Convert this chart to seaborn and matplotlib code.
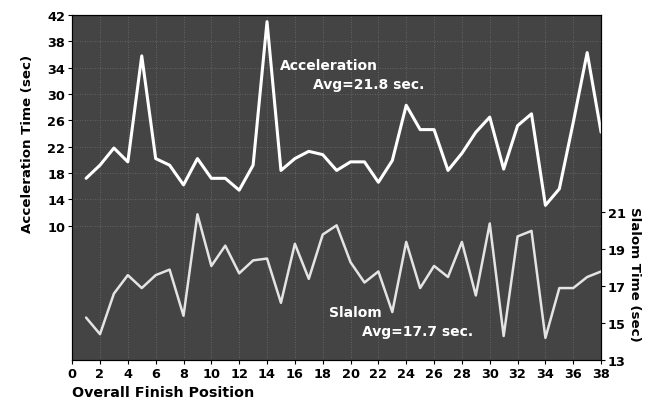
import matplotlib
matplotlib.use("Agg")
import matplotlib.pyplot as plt
import seaborn as sns
import pandas as pd

# finish positions 1..38
position = list(range(1, 39))

accel_time = [17.2, 19.2, 21.8, 19.7, 35.8, 20.2, 19.2, 16.2, 20.2, 17.2,
              17.2, 15.4, 19.2, 41.0, 18.4, 20.2, 21.3, 20.8, 18.4, 19.7,
              19.7, 16.6, 19.9, 28.3, 24.6, 24.6, 18.4, 21.0, 24.2, 26.5,
              18.6, 25.2, 27.0, 13.1, 15.6, 25.7, 36.3, 24.2]

slalom_time = [15.3, 14.4, 16.6, 17.6, 16.9, 17.6, 17.9, 15.4, 20.9, 18.1,
               19.2, 17.7, 18.4, 18.5, 16.1, 19.3, 17.4, 19.8, 20.3, 18.3,
               17.2, 17.8, 15.6, 19.4, 16.9, 18.1, 17.5, 19.4, 16.5, 20.4,
               14.3, 19.7, 20.0, 14.2, 16.9, 16.9, 17.5, 17.8]

accel_ticks = [10, 14, 18, 22, 26, 30, 34, 38, 42]
slalom_ticks = [13, 15, 17, 19, 21]
x_ticks = list(range(0, 39, 2))

df = pd.DataFrame({"pos": position, "accel": accel_time, "slalom": slalom_time})

sns.set_style("ticks")
plt.rcParams['font.family'] = ['DejaVu Sans']
plt.rcParams['font.weight'] = 'bold'
plt.rcParams['text.color'] = 'black'
plt.rcParams['axes.labelcolor'] = 'black'
plt.rcParams['xtick.color'] = 'black'
plt.rcParams['ytick.color'] = 'black'

fig = plt.figure(figsize=(6.62, 4.02), dpi=100)
ax = fig.add_axes([0.109, 0.102, 0.799, 0.858])
ax.set_facecolor('#444444')

ax.set_xticks(x_ticks)
ax.set_yticks(accel_ticks)
ax.grid(True, color='#6e6e6e', linestyle=(0, (1, 2)), linewidth=0.6)
ax.set_axisbelow(True)

sns.lineplot(data=df, x="pos", y="accel", ax=ax, color='white', linewidth=2.2)
ax.set_xlim(0, 38)
ax.set_ylim(-10.4, 42)

ax2 = ax.twinx()
sns.lineplot(data=df, x="pos", y="slalom", ax=ax2, color='#e4e4e4', linewidth=1.8)
ax2.set_ylim(13, 31.7)
ax2.set_yticks(slalom_ticks)

for a in (ax, ax2):
    for s in a.spines.values():
        s.set_color('black')
        s.set_linewidth(0.8)
    a.tick_params(labelsize=9.3, length=3, width=0.8, pad=2, colors='black')

ax.set_xlabel("Overall Finish Position", fontsize=10.3, fontweight='bold', loc='left', color='black')
ax.set_ylabel("Acceleration Time (sec)", fontsize=9.6, fontweight='bold', color='black')
ax.yaxis.set_label_coords(-0.072, 0.63)
ax2.set_ylabel("Slalom Time (sec)", fontsize=9.6, fontweight='bold', rotation=-90, labelpad=14, color='black')
ax2.yaxis.set_label_coords(1.075, 0.25)

ax.text(14.94, 34.4, "Acceleration", color='white', fontsize=10, fontweight='bold', va='center')
ax.text(17.3, 31.5, "Avg=21.8 sec.", color='white', fontsize=10, fontweight='bold', va='center')
ax2.text(18.46, 15.6, "Slalom", color='white', fontsize=10, fontweight='bold', va='center')
ax2.text(20.83, 14.57, "Avg=17.7 sec.", color='white', fontsize=10, fontweight='bold', va='center')

plt.savefig("out.png", dpi=100)
